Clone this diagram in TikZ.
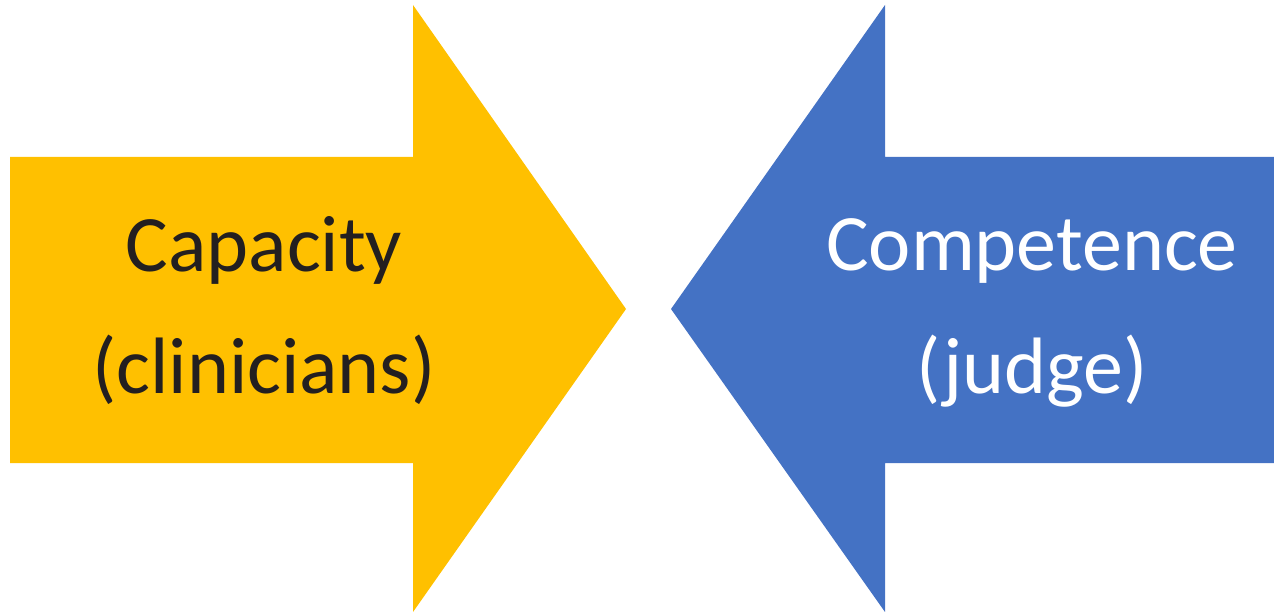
\documentclass[tikz,border=0pt]{standalone}
\usepackage{fontspec}
\setmainfont{Carlito}
\begin{document}
\begin{tikzpicture}[x=1pt,y=-1pt,
  label/.style={font=\fontsize{80}{96}\selectfont, anchor=base, inner sep=0pt}]
  \definecolor{capyellow}{HTML}{FFC000}
  \definecolor{compblue}{HTML}{4472C4}
  \definecolor{inkdark}{HTML}{231F20}
  \useasboundingbox (0,0) rectangle (1274,612);
  % right-pointing block arrow
  \fill[capyellow] (10,157) -- (413,157) -- (413,5) -- (626,309)
    -- (413,612) -- (413,463) -- (10,463) -- cycle;
  % left-pointing block arrow
  \fill[compblue] (1274,157) -- (885,157) -- (885,5) -- (671,309)
    -- (885,612) -- (885,463) -- (1274,463) -- cycle;
  \node[label, text=inkdark] (cap) at (264,272) {Capacity};
  \node[label, text=inkdark] (clin) at (264,393) {(clinicians)};
  \node[label, text=white] (comp) at (1032,271) {Competence};
  \node[label, text=white] (judge) at (1032,393) {(judge)};
\end{tikzpicture}
\end{document}
